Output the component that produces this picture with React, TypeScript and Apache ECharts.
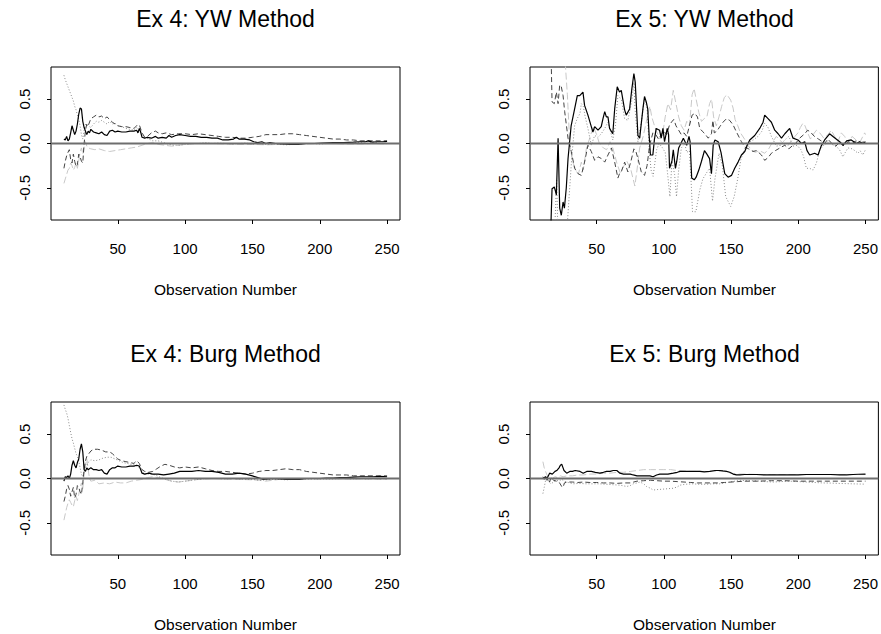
import React, { useEffect, useRef } from "react";
import * as echarts from "echarts";

type P = [number, number][];

const titles = ["Ex 4: YW Method", "Ex 5: YW Method", "Ex 4: Burg Method", "Ex 5: Burg Method"];
const xTicks = [50, 100, 150, 200, 250];
const yTicks = [-0.5, 0, 0.5];
const xLabel = "Observation Number";

// ---- Ex 4: YW ----
const ex4ywSolid: P = [[10,0.05],[11,0.04],[12,0.08],[13,0.03],[14,0.05],[15,0.12],[16,0.2],[17,0.15],[18,0.1],[19,0.14],[20,0.22],[21,0.33],[22,0.4],[23,0.39],[24,0.25],[25,0.18],[26,0.14],[27,0.1],[28,0.14],[29,0.12],[30,0.16],[32,0.13],[34,0.12],[36,0.11],[38,0.13],[40,0.1],[42,0.09],[44,0.14],[46,0.15],[48,0.13],[50,0.14],[53,0.13],[56,0.13],[59,0.14],[62,0.14],[64,0.15],[65,0.12],[66,0.17],[67,0.13],[68,0.07],[70,0.06],[72,0.07],[75,0.06],[78,0.08],[80,0.06],[83,0.07],[86,0.06],[88,0.09],[90,0.07],[93,0.09],[96,0.1],[100,0.09],[104,0.08],[108,0.08],[112,0.07],[116,0.07],[120,0.06],[124,0.06],[128,0.04],[132,0.04],[136,0.05],[138,0.07],[140,0.05],[144,0.05],[148,0.04],[151,0.02],[154,0.01],[157,0.02],[160,0.0],[163,0.01],[167,0.0],[172,-0.005],[178,-0.01],[184,-0.01],[190,0.0],[196,0.0],[202,0.005],[210,0.01],[218,0.01],[225,0.015],[230,0.02],[234,0.02],[236,0.03],[239,0.015],[243,0.02],[247,0.02],[250,0.025]];
const ex4ywDash: P = [[10,-0.28],[11,-0.2],[12,-0.14],[13,-0.1],[14,-0.07],[15,-0.18],[16,-0.22],[17,-0.12],[18,-0.2],[19,-0.26],[20,-0.24],[21,-0.12],[22,-0.15],[23,-0.2],[24,-0.22],[25,0.0],[26,0.15],[27,0.22],[28,0.2],[30,0.28],[32,0.3],[34,0.32],[36,0.3],[38,0.31],[40,0.28],[42,0.3],[44,0.27],[46,0.24],[48,0.22],[50,0.2],[53,0.19],[56,0.19],[59,0.18],[62,0.17],[64,0.2],[66,0.21],[68,0.12],[70,0.07],[72,0.08],[75,0.12],[78,0.14],[80,0.12],[83,0.11],[86,0.12],[90,0.1],[95,0.11],[100,0.11],[105,0.1],[110,0.11],[115,0.1],[120,0.09],[125,0.08],[130,0.07],[135,0.07],[140,0.06],[145,0.06],[150,0.07],[155,0.08],[160,0.1],[165,0.1],[170,0.1],[175,0.11],[180,0.11],[185,0.1],[190,0.09],[195,0.08],[200,0.07],[205,0.06],[210,0.05],[215,0.05],[220,0.04],[225,0.04],[230,0.03],[235,0.03],[240,0.03],[245,0.03],[250,0.03]];
const ex4ywDot: P = [[10,0.77],[11,0.72],[12,0.68],[13,0.64],[14,0.6],[15,0.56],[16,0.52],[17,0.48],[18,0.42],[19,0.38],[20,0.32],[21,0.27],[22,0.2],[23,0.1],[24,0.05],[25,0.15],[26,0.22],[28,0.2],[30,0.18],[32,0.22],[34,0.25],[36,0.24],[38,0.26],[40,0.24],[42,0.22],[44,0.25],[46,0.22],[48,0.23],[50,0.2],[53,0.19],[56,0.17],[59,0.16],[62,0.15],[64,0.18],[66,0.14],[68,0.1],[70,0.07],[73,0.05],[76,0.03],[80,0.03],[84,0.01],[88,-0.01],[92,-0.02],[96,-0.02],[100,-0.01],[105,0.0],[110,0.0],[115,0.01],[120,0.0],[125,0.005],[130,0.0],[135,-0.005],[140,0.0],[145,0.005],[150,-0.005],[155,0.0],[160,-0.01],[165,-0.005],[170,-0.01],[175,-0.015],[180,-0.01],[185,-0.005],[190,0.0],[195,0.0],[200,-0.005],[205,0.0],[210,0.0],[215,0.005],[220,0.01],[225,0.005],[230,0.01],[235,0.0],[240,0.015],[245,0.0],[250,0.005]];
const ex4ywLight: P = [[10,-0.45],[11,-0.4],[12,-0.35],[13,-0.3],[14,-0.28],[15,-0.22],[16,-0.25],[17,-0.3],[18,-0.27],[19,-0.22],[20,-0.28],[21,-0.2],[22,-0.1],[23,-0.05],[24,-0.12],[25,-0.04],[26,0.02],[27,-0.03],[28,-0.05],[30,-0.06],[33,-0.07],[36,-0.06],[40,-0.08],[44,-0.09],[48,-0.08],[52,-0.07],[56,-0.06],[60,-0.05],[64,-0.04],[68,-0.02],[72,0.0],[76,0.01],[80,-0.01],[85,-0.02],[90,-0.03],[95,-0.02],[100,-0.01],[110,0.0],[120,0.0],[130,-0.005],[140,-0.01],[150,-0.01],[160,-0.015],[170,-0.01],[180,-0.005],[190,-0.005],[200,0.0],[210,0.0],[220,-0.005],[230,-0.005],[240,0.0],[250,-0.005]];

// ---- Ex 5: YW ----
const ex5ywSolid: P = [[14,-1.2],[16,-0.9],[16.8,-0.51],[18.5,-0.49],[20,-0.58],[21.3,0.06],[22.5,-0.73],[23.7,-0.81],[25,-0.66],[26,-0.73],[27.4,-0.5],[28.7,-0.17],[31,0.2],[33.6,0.39],[35.6,0.54],[37.4,0.54],[39.8,0.58],[41,0.43],[43.5,0.32],[46,0.19],[47.2,0.13],[48.5,0.19],[51,0.15],[53.4,0.19],[54.7,0.28],[56,0.36],[57.2,0.3],[58.4,0.3],[59.6,0.17],[62,0.11],[63.4,0.39],[65.3,0.64],[67,0.58],[68.3,0.6],[70.8,0.38],[72,0.32],[74.5,0.39],[76.2,0.62],[77.7,0.79],[78.7,0.69],[80.7,0.09],[82,0.06],[84.4,0.39],[85.6,0.53],[86.9,0.47],[88,0.39],[89,0.1],[90,-0.13],[91.8,-0.13],[93,0.05],[94.3,0.17],[96.8,0.15],[98,0.06],[99.3,0.17],[100.5,0.02],[102.5,0.17],[103.5,0.1],[104.2,-0.28],[106,-0.2],[107,-0.07],[108.6,-0.28],[109.6,-0.2],[111,-0.05],[112,-0.02],[114.5,0.06],[117,-0.02],[118.7,0.08],[119.5,0.02],[120.7,-0.39],[122.6,-0.41],[124,-0.38],[126,-0.3],[128,-0.2],[130.2,-0.08],[132,-0.12],[134,-0.17],[135.4,-0.34],[136.7,-0.02],[138,0.04],[140.4,0.02],[142.5,-0.1],[145.3,-0.34],[147.8,-0.38],[150.3,-0.36],[152.7,-0.28],[155.2,-0.21],[157.7,-0.13],[160.2,-0.09],[162,-0.02],[163.9,0.04],[167.6,0.09],[171.3,0.17],[173.8,0.24],[175,0.32],[177.5,0.28],[180,0.24],[182.5,0.15],[185,0.11],[187.5,0.06],[190,0.11],[193.6,0.17],[196.1,0.06],[199.8,0.04],[202.3,0.0],[204.8,0.02],[206.5,-0.08],[208.5,-0.13],[212.2,-0.11],[214.7,-0.13],[217,-0.03],[219.6,0.04],[223.3,0.11],[225.8,0.08],[230.8,0.02],[233.2,-0.02],[236,0.03],[239.4,0.04],[243.2,0.0],[245.6,0.02],[248,0.0],[250,0.02]];
const ex5ywDash: P = [[15,1.2],[16.3,0.84],[16.8,0.47],[18.5,0.45],[20,0.58],[21.3,0.45],[22.5,0.66],[23.7,0.64],[25,0.54],[26.2,0.36],[28.7,0.06],[31.1,-0.09],[33.6,-0.28],[36.1,-0.34],[38.6,-0.36],[41,-0.21],[43.5,-0.02],[46,-0.09],[48.5,-0.19],[51,-0.15],[53.5,-0.17],[56,-0.21],[58.4,-0.13],[61,-0.05],[63.4,-0.21],[65.8,-0.39],[67,-0.34],[68.3,-0.32],[70.8,-0.21],[73.2,-0.32],[75.5,-0.2],[77.7,-0.06],[79,-0.08],[80.7,-0.17],[83.2,-0.32],[85.6,-0.36],[87.5,-0.25],[89.4,-0.02],[91.8,0.12],[94,0.1],[96,0.05],[98,0.1],[100,0.14],[102,0.1],[104,0.2],[106,0.25],[107.5,0.27],[109,0.2],[111,0.15],[113,0.1],[115,0.12],[117,0.08],[119,0.2],[121,0.32],[123,0.34],[125,0.3],[126.7,0.17],[128.5,0.14],[130.5,0.11],[133,0.06],[135.4,0.11],[136.5,0.26],[137.5,0.12],[139.5,0.14],[141.6,0.19],[144,0.24],[146.6,0.28],[149,0.26],[151.5,0.21],[154,0.13],[157.7,0.02],[160.2,-0.04],[163,-0.06],[166.3,-0.09],[169,-0.08],[172.6,-0.13],[175,-0.19],[177.5,-0.16],[180,-0.11],[183,-0.08],[187.5,-0.04],[190,-0.02],[193,-0.06],[196,-0.02],[198,0.0],[201,0.06],[204.8,0.11],[207,0.15],[209,0.13],[212,0.08],[215,0.05],[218,0.02],[219.6,0.0],[222,0.05],[225,0.0],[228,-0.03],[231,0.02],[234,-0.03],[237,0.02],[240,0.0],[243,0.03],[246,0.01],[250,0.02]];
const ex5ywDot: P = [[17,-1.2],[19,-0.9],[20.2,-0.4],[21,-0.9],[23,-1.2],[26,-1.2],[28,-0.95],[29.5,-0.6],[31.5,-0.15],[33.6,0.2],[35.5,0.28],[37.6,0.34],[38.6,0.45],[40,0.42],[41.5,0.3],[43.5,0.17],[46,-0.02],[48.5,0.09],[51,0.07],[53.4,0.11],[56,0.17],[58.4,0.24],[60,0.15],[62,0.04],[64,0.21],[65.8,0.54],[68.3,0.5],[70.8,0.28],[73.2,0.26],[76,0.47],[77.7,0.69],[78.5,0.4],[80.7,0.02],[83.2,0.24],[85.6,0.51],[87.5,0.4],[89.4,-0.13],[90.5,-0.3],[92,-0.37],[94.6,-0.07],[96.5,0.0],[99,-0.05],[101,-0.1],[102.5,-0.3],[104.5,-0.6],[106,-0.2],[108,-0.35],[109.4,-0.6],[111,-0.3],[113,-0.05],[115.5,0.0],[117,-0.1],[119,-0.08],[120.5,-0.5],[121.3,-0.77],[123.8,-0.77],[126.8,-0.52],[129,-0.4],[131.8,-0.33],[134,-0.28],[136.2,-0.65],[138,-0.4],[141,-0.11],[143.5,-0.25],[146,-0.6],[149.7,-0.71],[152.3,-0.6],[154.8,-0.41],[157.3,-0.18],[161,-0.03],[164,0.02],[166.5,0.04],[170,0.08],[173,0.14],[175,0.23],[177.5,0.18],[180,0.08],[183.7,-0.03],[187,-0.02],[189.9,0.04],[193,0.08],[196,-0.03],[199,-0.02],[202,-0.07],[204,-0.15],[206,-0.28],[208.5,-0.28],[211,-0.3],[213.5,-0.22],[216,-0.07],[219,-0.02],[222,0.02],[225,-0.01],[228,-0.03],[230.7,-0.07],[233.2,-0.15],[235,-0.1],[237,-0.05],[240,-0.06],[242,-0.08],[244.4,-0.11],[246,-0.08],[248,-0.13],[250,-0.07]];
const ex5ywLight: P = [[18,1.2],[20,0.9],[21,1.1],[24,1.2],[26.2,1.0],[28.2,0.55],[30,0.0],[32,-0.2],[35,-0.32],[36.5,-0.34],[38.6,-0.21],[40,-0.3],[42.3,-0.06],[44.8,0.06],[47.5,0.19],[50,0.1],[52,0.0],[55,-0.05],[57.4,-0.07],[60,0.02],[62,-0.05],[65,-0.22],[67.5,-0.33],[70,-0.26],[72.5,-0.2],[75.5,-0.3],[78.4,-0.48],[80,-0.3],[82,-0.05],[84.6,0.08],[87,0.25],[89.6,0.42],[91,0.3],[93,0.2],[95,0.12],[97,0.05],[99,0.1],[101,0.3],[103,0.45],[105,0.38],[107,0.6],[109,0.45],[111,0.3],[113,0.2],[115,0.15],[117,0.25],[119,0.2],[121,0.55],[122.5,0.62],[124,0.5],[126,0.35],[128,0.25],[130,0.28],[132,0.3],[134,0.45],[135.5,0.5],[137,0.3],[139,0.2],[141,0.3],[143,0.42],[145,0.52],[147,0.55],[149.7,0.49],[151.5,0.4],[153,0.27],[155,0.2],[157,0.12],[160,0.05],[162.5,-0.02],[165,-0.07],[168,-0.1],[171,-0.08],[175,-0.11],[178,-0.06],[181,0.02],[183.7,0.08],[186,0.04],[189,0.0],[192,-0.03],[195,0.03],[197.5,0.08],[199.8,0.12],[201.5,0.18],[203.5,0.23],[205,0.2],[207,0.12],[209,0.05],[211,0.1],[213.5,0.15],[216,0.12],[219,0.06],[222,0.1],[224.6,0.15],[227,0.08],[229.5,0.02],[232,0.12],[234.5,0.08],[237,0.0],[240,0.08],[243,0.04],[246,0.02],[249.4,0.12],[250,0.1]];

// ---- Ex 4: Burg ----
const ex4bgSolid: P = [[10,-0.03],[11,0.02],[12,0.01],[13,0.03],[14,0.0],[15,0.05],[16,0.15],[17,0.2],[18,0.15],[19,0.12],[20,0.18],[21,0.22],[22,0.33],[23,0.39],[24,0.3],[25,0.1],[26,0.08],[27,0.12],[28,0.1],[30,0.12],[32,0.1],[34,0.1],[36,0.09],[38,0.1],[40,0.06],[42,0.05],[44,0.1],[46,0.12],[48,0.12],[50,0.14],[53,0.13],[56,0.13],[59,0.14],[62,0.14],[64,0.15],[66,0.14],[67,0.1],[68,0.06],[70,0.05],[73,0.06],[76,0.05],[80,0.05],[84,0.04],[88,0.05],[92,0.06],[96,0.08],[100,0.08],[105,0.08],[110,0.09],[115,0.08],[120,0.08],[125,0.07],[130,0.05],[135,0.05],[140,0.06],[145,0.05],[150,0.03],[154,0.01],[158,-0.01],[162,-0.005],[166,0.0],[170,-0.005],[175,-0.01],[180,-0.01],[185,-0.01],[190,0.0],[195,0.0],[200,0.0],[205,0.005],[210,0.005],[215,0.01],[220,0.01],[225,0.015],[230,0.02],[235,0.02],[240,0.02],[245,0.025],[250,0.02]];
const ex4bgDash: P = [[10,-0.26],[11,-0.2],[12,-0.12],[13,-0.08],[14,-0.12],[15,-0.2],[16,-0.15],[17,-0.1],[18,-0.22],[19,-0.18],[20,-0.08],[21,-0.1],[22,-0.15],[23,-0.18],[24,-0.05],[25,0.1],[26,0.2],[27,0.25],[28,0.27],[30,0.31],[32,0.33],[35,0.33],[38,0.32],[41,0.3],[44,0.3],[46,0.28],[48,0.25],[50,0.22],[53,0.2],[56,0.19],[59,0.18],[62,0.17],[64,0.2],[66,0.17],[68,0.1],[70,0.08],[73,0.07],[76,0.08],[79,0.11],[82,0.14],[85,0.16],[88,0.15],[92,0.13],[96,0.12],[100,0.13],[105,0.12],[110,0.13],[115,0.11],[120,0.09],[125,0.08],[130,0.08],[135,0.07],[140,0.06],[145,0.05],[150,0.06],[155,0.08],[160,0.09],[165,0.09],[170,0.1],[175,0.11],[180,0.1],[185,0.1],[190,0.08],[195,0.07],[200,0.06],[205,0.05],[210,0.04],[215,0.04],[220,0.04],[225,0.03],[230,0.03],[235,0.03],[240,0.03],[245,0.03],[250,0.03]];
const ex4bgDot: P = [[10,0.83],[11,0.78],[12,0.74],[13,0.68],[14,0.6],[15,0.52],[16,0.45],[17,0.4],[18,0.34],[19,0.28],[20,0.25],[21,0.2],[22,0.12],[23,0.05],[24,0.02],[25,0.08],[26,0.12],[28,0.18],[30,0.21],[33,0.2],[36,0.21],[39,0.23],[42,0.24],[45,0.24],[48,0.22],[51,0.2],[54,0.18],[57,0.17],[60,0.16],[63,0.15],[66,0.12],[68,0.08],[70,0.05],[74,0.05],[78,0.04],[82,0.01],[86,-0.01],[90,-0.03],[95,-0.04],[100,-0.03],[105,-0.02],[110,-0.01],[115,0.0],[120,0.0],[125,0.0],[130,-0.005],[135,0.0],[140,-0.005],[145,-0.01],[150,-0.01],[155,-0.02],[160,-0.015],[165,-0.01],[170,-0.01],[175,-0.015],[180,-0.01],[185,-0.005],[190,-0.005],[195,-0.005],[200,-0.005],[205,-0.005],[210,-0.005],[215,0.0],[220,0.0],[225,-0.005],[230,0.0],[235,-0.005],[240,0.0],[245,-0.005],[250,0.0]];
const ex4bgLight: P = [[10,-0.47],[11,-0.4],[12,-0.33],[13,-0.28],[14,-0.24],[15,-0.27],[16,-0.3],[17,-0.32],[18,-0.25],[19,-0.2],[20,-0.25],[21,-0.18],[22,-0.1],[23,-0.05],[24,-0.12],[25,0.05],[26,0.15],[27,0.22],[28,0.1],[29,0.0],[30,-0.03],[33,-0.02],[36,-0.06],[40,-0.05],[44,-0.06],[48,-0.04],[52,-0.05],[56,-0.05],[60,-0.03],[64,-0.02],[68,-0.01],[72,0.01],[76,0.02],[80,0.01],[85,-0.01],[90,-0.03],[95,-0.04],[100,-0.03],[105,-0.02],[110,-0.01],[120,0.0],[130,-0.005],[140,-0.01],[150,-0.015],[155,-0.02],[160,-0.03],[165,-0.02],[170,-0.01],[180,-0.01],[190,-0.005],[200,-0.005],[210,0.0],[220,-0.005],[230,-0.005],[240,-0.005],[250,-0.01]];

// ---- Ex 5: Burg ----
const ex5bgSolid: P = [[10,0.0],[12,0.02],[13,0.0],[15,0.06],[17,0.05],[19,0.08],[20.3,0.09],[22,0.12],[23,0.15],[24,0.16],[25,0.12],[25.7,0.09],[27.7,0.06],[30,0.08],[32,0.08],[34,0.09],[37.6,0.08],[40,0.06],[42.6,0.08],[46,0.08],[49,0.07],[52.4,0.06],[55,0.07],[57.4,0.08],[60,0.08],[62.3,0.09],[65,0.09],[67.3,0.06],[70,0.05],[72.3,0.05],[75,0.05],[77.2,0.04],[80,0.03],[82.2,0.03],[86,0.03],[89.6,0.03],[92,0.02],[94.6,0.04],[97,0.05],[99.5,0.05],[103,0.05],[107,0.06],[110,0.07],[112,0.08],[115,0.08],[119,0.08],[123,0.08],[126.8,0.08],[130,0.075],[134.2,0.08],[138,0.09],[141.6,0.09],[144,0.085],[146.6,0.08],[149,0.07],[151.5,0.05],[154,0.04],[156.5,0.04],[160,0.045],[165,0.045],[168.9,0.045],[175,0.04],[181.3,0.04],[187,0.04],[193.6,0.04],[200,0.042],[206,0.045],[212,0.045],[218.4,0.045],[224,0.045],[230.8,0.04],[236,0.04],[240.7,0.045],[245,0.048],[250,0.05]];
const ex5bgDash: P = [[10,0.02],[11,-0.01],[12,0.03],[13,-0.02],[14,0.0],[15,-0.04],[16,0.01],[18,-0.02],[20,-0.03],[22,-0.04],[24,-0.09],[25,-0.1],[26,-0.05],[28,-0.04],[32,-0.04],[36,-0.045],[40,-0.04],[45,-0.045],[50,-0.045],[55,-0.05],[60,-0.05],[65,-0.055],[70,-0.05],[75,-0.05],[80,-0.03],[85,-0.025],[90,-0.02],[95,-0.025],[100,-0.03],[105,-0.03],[110,-0.035],[115,-0.04],[120,-0.045],[125,-0.05],[130,-0.05],[135,-0.05],[140,-0.05],[145,-0.045],[150,-0.04],[155,-0.035],[160,-0.03],[170,-0.03],[180,-0.025],[190,-0.025],[200,-0.03],[210,-0.03],[220,-0.03],[230,-0.03],[240,-0.03],[250,-0.03]];
const ex5bgDot: P = [[10,-0.17],[11,-0.1],[12,-0.02],[13,0.02],[14,-0.03],[15.9,-0.06],[18,-0.04],[20,-0.02],[22,-0.03],[24,-0.01],[26,-0.03],[27.7,-0.04],[30,-0.05],[32.6,-0.06],[37,-0.055],[42,-0.06],[47,-0.06],[52.4,-0.06],[57,-0.065],[62,-0.07],[67.3,-0.075],[72.3,-0.09],[75,-0.08],[77.2,-0.06],[80,-0.05],[82.2,-0.04],[85,-0.06],[87.1,-0.09],[90,-0.11],[92,-0.13],[95,-0.125],[99.5,-0.12],[103,-0.115],[107,-0.11],[110,-0.095],[112,-0.075],[116,-0.065],[121.8,-0.06],[126,-0.065],[131.8,-0.065],[136,-0.06],[141.6,-0.06],[145,-0.05],[149,-0.04],[153,-0.03],[156.5,-0.02],[162,-0.025],[168.9,-0.026],[175,-0.035],[181.3,-0.04],[187,-0.035],[193.6,-0.03],[200,-0.035],[206,-0.04],[212,-0.045],[218.4,-0.05],[224,-0.052],[230.8,-0.056],[236,-0.058],[240,-0.06],[245,-0.062],[250,-0.064]];
const ex5bgLight: P = [[10,0.19],[11,0.12],[12,0.08],[13,0.04],[14,0.02],[15,0.03],[17,0.0],[19,0.02],[21,0.01],[23,0.03],[25,0.02],[28,0.03],[32,0.03],[36,0.04],[40,0.04],[45,0.05],[50,0.05],[55,0.06],[60,0.06],[65,0.07],[70,0.07],[75,0.08],[80,0.09],[85,0.1],[90,0.1],[95,0.1],[100,0.1],[105,0.1],[110,0.09],[115,0.085],[120,0.08],[125,0.08],[130,0.08],[135,0.08],[140,0.08],[145,0.08],[150,0.06],[155,0.05],[160,0.05],[170,0.045],[180,0.045],[190,0.045],[200,0.045],[210,0.045],[220,0.045],[230,0.045],[240,0.045],[250,0.045]];

const panels = [
  { light: ex4ywLight, dot: ex4ywDot, dash: ex4ywDash, solid: ex4ywSolid },
  { light: ex5ywLight, dot: ex5ywDot, dash: ex5ywDash, solid: ex5ywSolid },
  { light: ex4bgLight, dot: ex4bgDot, dash: ex4bgDash, solid: ex4bgSolid },
  { light: ex5bgLight, dot: ex5bgDot, dash: ex5bgDash, solid: ex5bgSolid },
];

const FONT = "'Liberation Sans', Helvetica, Arial, sans-serif";
const X_MIN = 0.4, X_MAX = 259.6, Y_LIM = 0.8632;
const lefts = [51, 530, 51, 530];
const tops = [67, 67, 402, 402];
const PW = 349, PH = 153;

export default function App() {
  const ref = useRef<HTMLDivElement>(null);
  useEffect(() => {
    if (!ref.current) return;
    const chart = echarts.init(ref.current, null, { renderer: "svg" });
    const grids = lefts.map((l, i) => ({
      left: l, top: tops[i], width: PW, height: PH, show: true,
      borderColor: "#000", borderWidth: 1, backgroundColor: "transparent",
    }));
    const xAxes = lefts.map((_, i) => ({
      gridIndex: i, type: "value", min: X_MIN, max: X_MAX,
      axisLine: { show: false, onZero: false },
      axisTick: { show: true, length: 4, customValues: xTicks, lineStyle: { color: "#000", width: 1 } },
      axisLabel: { customValues: xTicks, fontSize: 15, color: "#000", margin: 21, fontFamily: FONT },
      splitLine: { show: false },
    }));
    const yAxes = lefts.map((_, i) => ({
      gridIndex: i, type: "value", min: -Y_LIM, max: Y_LIM,
      axisLine: { show: false, onZero: false },
      axisTick: { show: true, length: 4, customValues: yTicks, lineStyle: { color: "#000", width: 1 } },
      axisLabel: {
        customValues: yTicks, fontSize: 15, color: "#000", margin: 19, rotate: 90, fontFamily: FONT,
        formatter: (v: number) => v.toFixed(1),
      },
      splitLine: { show: false },
    }));
    const series: any[] = [];
    panels.forEach((p, i) => {
      const base = { type: "line", xAxisIndex: i, yAxisIndex: i, showSymbol: false, symbol: "none", clip: true, silent: true };
      series.push({ ...base, data: p.light, z: 2, lineStyle: { color: "#c8c8c8", width: 1, type: [7, 3] } });
      series.push({ ...base, data: p.dot, z: 3, lineStyle: { color: "#8a8a8a", width: 1, type: [1, 2] } });
      series.push({ ...base, data: p.dash, z: 4, lineStyle: { color: "#444", width: 1, type: [5, 3] } });
      series.push({ ...base, data: p.solid, z: 5, lineStyle: { color: "#000", width: 1.2, type: "solid" } });
      series.push({ ...base, data: [[X_MIN, 0], [X_MAX, 0]], z: 6, lineStyle: { color: "#6e6e6e", width: 2, type: "solid" } });
    });
    const graphic: any[] = [];
    lefts.forEach((l, i) => {
      const cx = l + PW / 2;
      graphic.push({
        type: "text", x: cx, y: tops[i] - 48,
        style: { text: titles[i], fontSize: 23, fill: "#000", fontFamily: FONT, textAlign: "center", textVerticalAlign: "middle" },
      });
      graphic.push({
        type: "text", x: cx, y: tops[i] + PH + 69,
        style: { text: xLabel, fontSize: 15.5, fill: "#000", fontFamily: FONT, textAlign: "center", textVerticalAlign: "middle" },
      });
    });
    chart.setOption({
      animation: false,
      backgroundColor: "#fff",
      grid: grids,
      xAxis: xAxes,
      yAxis: yAxes,
      series,
      graphic,
    });
    return () => chart.dispose();
  }, []);
  return <div ref={ref} style={{ position: "fixed", left: 0, top: 0, width: 881, height: 634 }} />;
}
